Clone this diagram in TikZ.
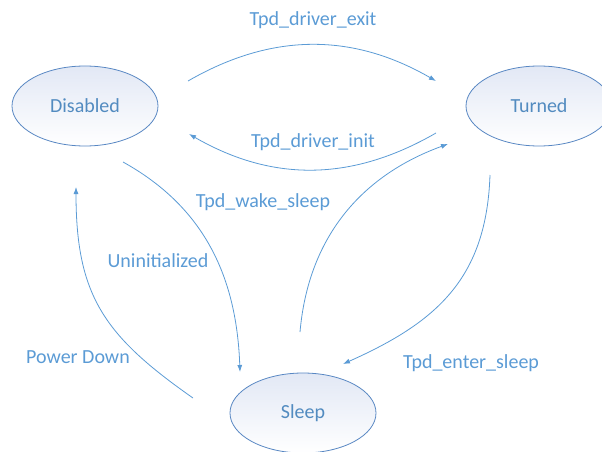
\documentclass[tikz,border=0pt]{standalone}
\usepackage{fontspec}
\setmainfont{Carlito}
\usetikzlibrary{arrows.meta,shapes.geometric}

\definecolor{linkblue}{RGB}{91,155,213}
\definecolor{rimblue}{RGB}{88,135,195}
\definecolor{fillblue}{RGB}{226,232,245}

\begin{document}
\begin{tikzpicture}[x=1pt,y=-1pt,
  state/.style={ellipse,draw=rimblue,line width=.8pt,top color=fillblue,bottom color=white,minimum width=146pt,minimum height=80pt,inner sep=0pt,text=linkblue!90!black,font=\fontsize{20}{24}\selectfont},
  trans/.style={draw=linkblue,line width=.8pt,-{Latex[length=7pt,width=5pt]}},
  tlabel/.style={text=linkblue,inner sep=0pt,font=\fontsize{20}{24}\selectfont}
]
\useasboundingbox (0,0) rectangle (602,452);

\node[state] (disabled) at (85,106) {Disabled};
\node[state] (turned) at (539,106) {Turned};
\node[state] (sleep) at (303,413) {Sleep};

% free ends of the transitions
\coordinate (exit-a) at (188,81);
\coordinate (exit-b) at (436,81);
\coordinate (init-a) at (436,133);
\coordinate (init-b) at (189,134);
\coordinate (wake-a) at (300,332);
\coordinate (wake-b) at (448,144);
\coordinate (uninit-a) at (123,162);
\coordinate (uninit-b) at (240,372);
\coordinate (down-a) at (193,398);
\coordinate (down-b) at (76,187);
\coordinate (enter-a) at (490,175);
\coordinate (enter-b) at (343,364);

\draw[trans] (exit-a) to[out=30,in=150] (exit-b);
\draw[trans] (init-a) to[out=210,in=-30] (init-b);
\draw[trans] (wake-a) to[out=85,in=200] (wake-b);
\draw[trans] (uninit-a) to[out=-29,in=92] (uninit-b);
\draw[trans] (down-a) to[out=145,in=-90,looseness=1.15] (down-b);
\draw[trans] (enter-a) to[out=-92,in=24,looseness=1.1] (enter-b);

\node[tlabel] (l-exit) at (313,20) {Tpd\_driver\_exit};
\node[tlabel] (l-init) at (313,142) {Tpd\_driver\_init};
\node[tlabel] (l-wake) at (263,202) {Tpd\_wake\_sleep};
\node[tlabel] (l-uninit) at (158,261) {Uninitialized};
\node[tlabel] (l-down) at (78,357) {Power Down};
\node[tlabel] (l-enter) at (471,363) {Tpd\_enter\_sleep};
\end{tikzpicture}
\end{document}
